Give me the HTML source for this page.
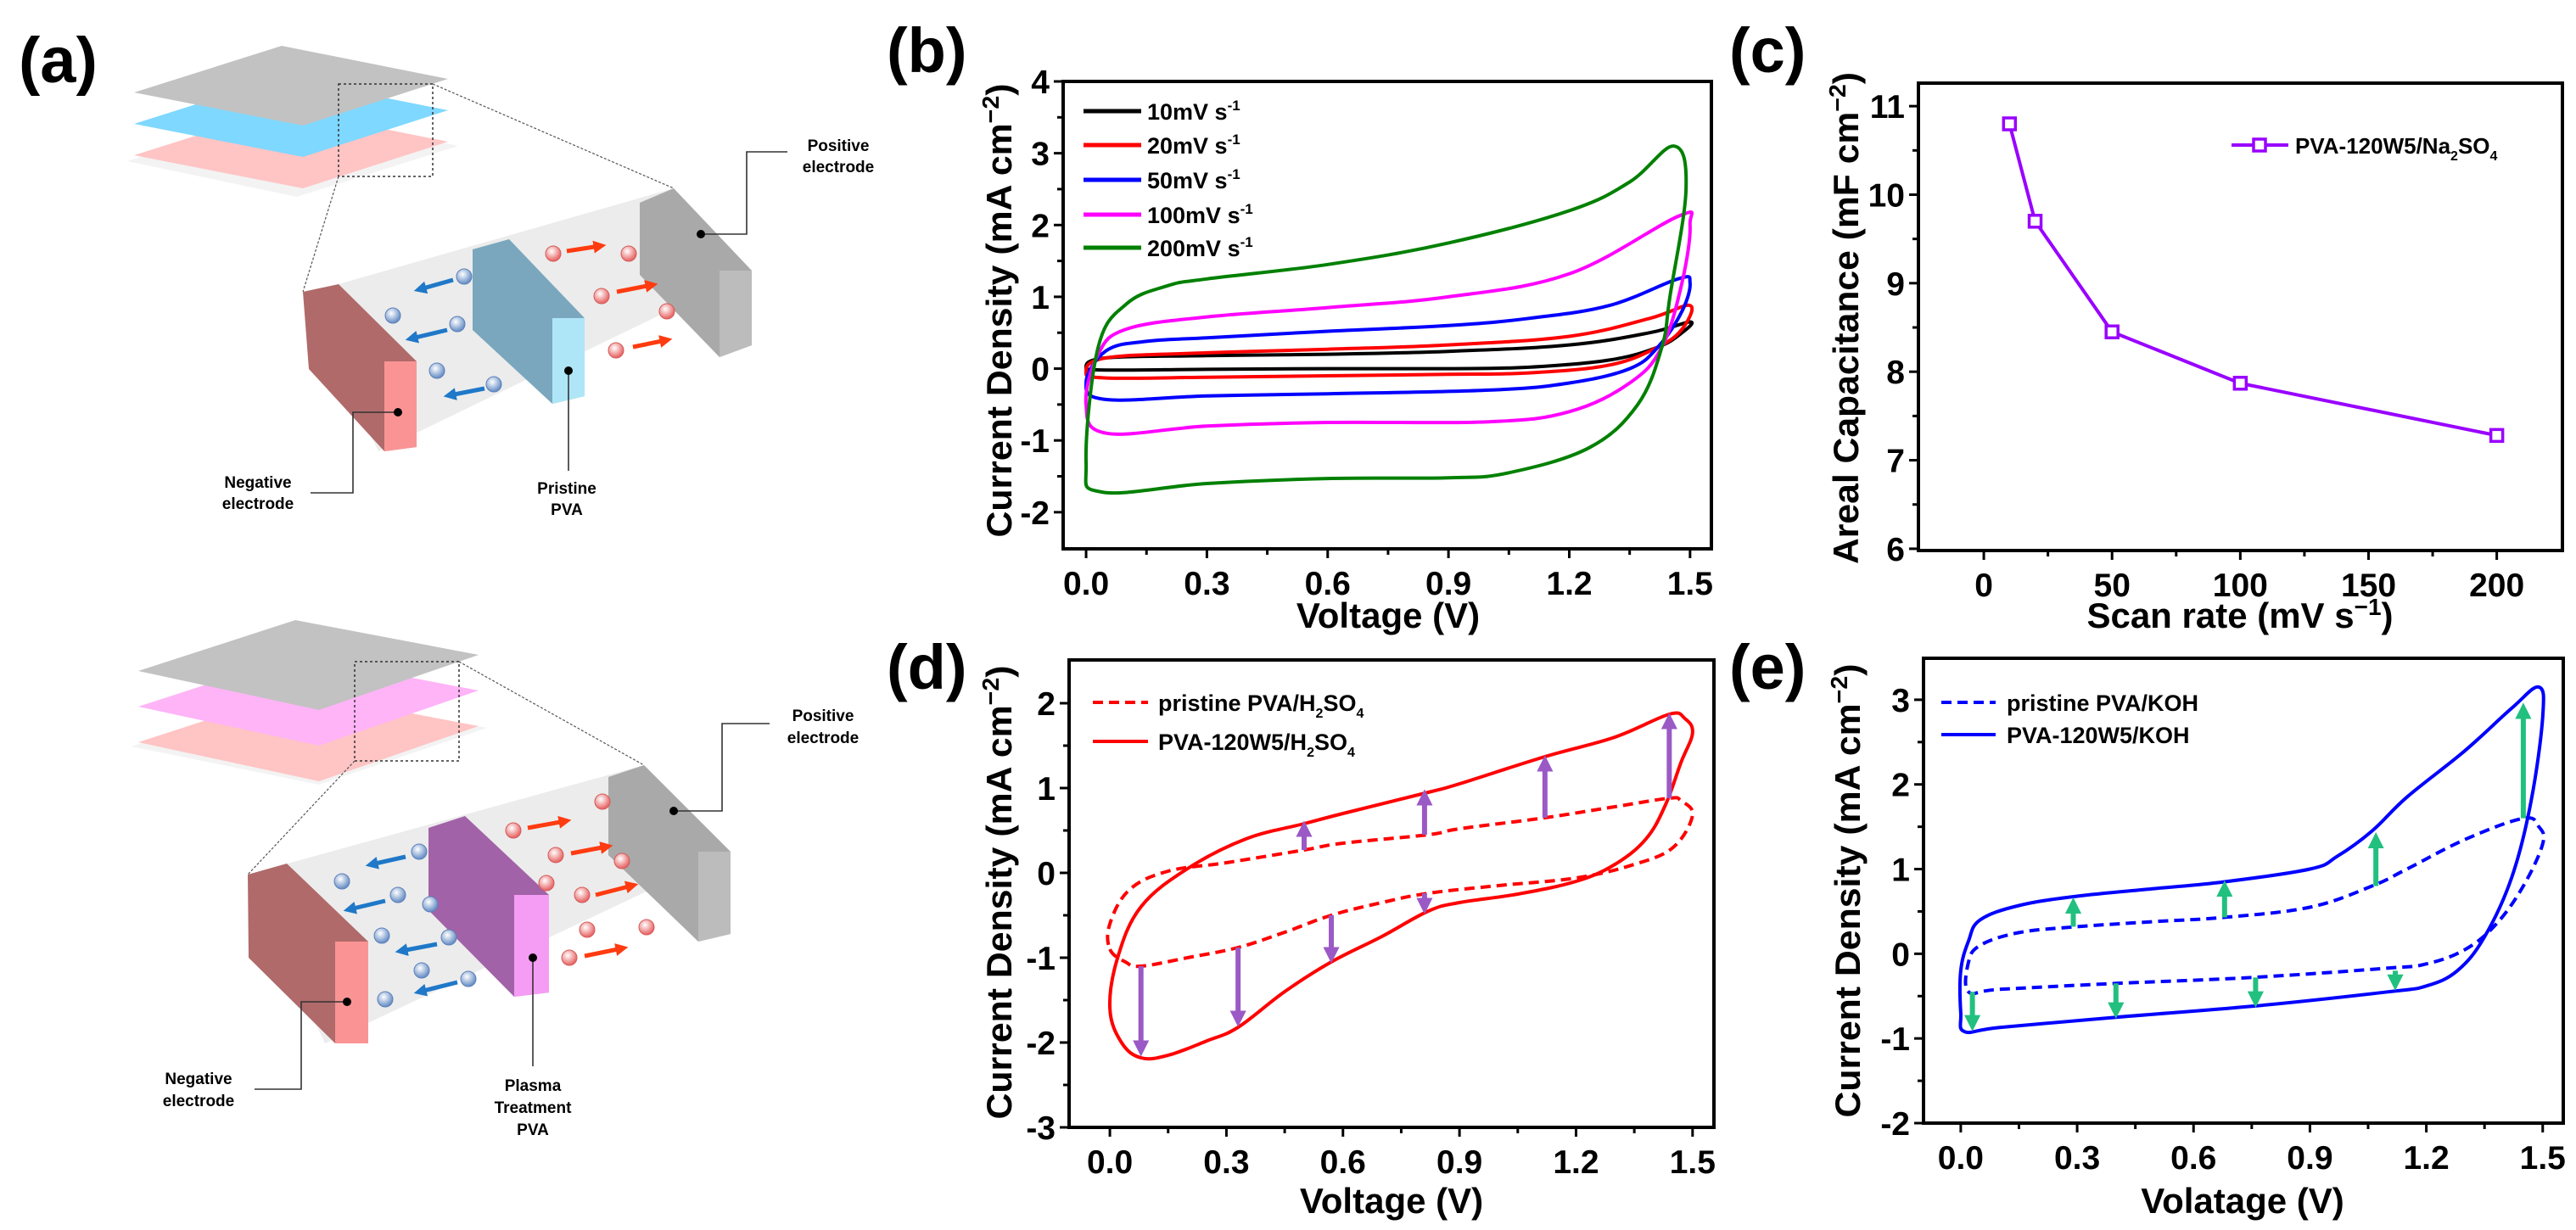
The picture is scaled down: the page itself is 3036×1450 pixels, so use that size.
<!DOCTYPE html>
<html><head><meta charset="utf-8"><style>
html,body{margin:0;padding:0;background:#fff}
svg{display:block}
text{font-family:"Liberation Sans",Arial,sans-serif;font-weight:bold;fill:#000}
</style></head><body>
<svg id="fig" width="3036" height="1450" viewBox="0 0 3036 1450" xmlns="http://www.w3.org/2000/svg">
<defs>
<marker id="ahP" viewBox="0 0 10 10" refX="5" refY="5" markerWidth="3.2" markerHeight="3.2" orient="auto"><path d="M0,0 L10,5 L0,10 z" fill="#9b59c6"/></marker>
<marker id="ahG" viewBox="0 0 10 10" refX="5" refY="5" markerWidth="3.2" markerHeight="3.2" orient="auto"><path d="M0,0 L10,5 L0,10 z" fill="#22c07f"/></marker>
<marker id="ahB" viewBox="0 0 10 10" refX="5" refY="5" markerWidth="3" markerHeight="3" orient="auto"><path d="M0,0 L10,5 L0,10 z" fill="#1f78c8"/></marker>
<marker id="ahR" viewBox="0 0 10 10" refX="5" refY="5" markerWidth="3" markerHeight="3" orient="auto"><path d="M0,0 L10,5 L0,10 z" fill="#ff3b10"/></marker>
<radialGradient id="gB" cx="40%" cy="35%" r="60%"><stop offset="0" stop-color="#fff"/><stop offset="1" stop-color="#6d93c8"/></radialGradient>
<radialGradient id="gR" cx="40%" cy="35%" r="60%"><stop offset="0" stop-color="#fff"/><stop offset="1" stop-color="#e86a6a"/></radialGradient>
</defs>

<!-- Panel (a) -->
<g>
<text x="22" y="97" font-size="76">(a)</text>
<g>
<polygon points="150,190 340,130 540,172 350,232" fill="#eee" opacity="0.7"/>
<polygon points="158,183 332,128 528,167 357,222" fill="#ffc4c4"/>
<polygon points="158,146 332,91 528,130 357,185" fill="#7fd8ff"/>
<polygon points="158,109 332,54 528,93 357,148" fill="#c2c2c2"/>
<rect x="399" y="99" width="111" height="109" fill="none" stroke="#333" stroke-width="1.5" stroke-dasharray="3 3"/>
<line x1="399" y1="208" x2="357" y2="344" stroke="#555" stroke-width="1.2" stroke-dasharray="3 2"/>
<line x1="510" y1="99" x2="794" y2="222" stroke="#555" stroke-width="1.2" stroke-dasharray="3 2"/>
<polygon points="357,347 794,222 886,319 446,532" fill="#ececec"/>
<polygon points="357,344 399,335 491,426 491,527 453,532 364,435" fill="#b06a6a"/>
<polygon points="453,426 491,426 491,527 453,532" fill="#fa9494"/>
<polygon points="557,294 600,282 689,375 689,467 651,476 557,389" fill="#7aa7bd"/>
<polygon points="651,375 689,375 689,467 651,476" fill="#aee6f7"/>
<polygon points="754,239 794,222 886,319 886,407 848,421 754,324" fill="#a9a9a9"/>
<polygon points="848,319 886,319 886,407 848,421" fill="#bcbcbc"/>
<g fill="url(#gB)" stroke="#5c7fb8" stroke-width="1"><circle cx="547" cy="326" r="9"/><circle cx="463" cy="372" r="9"/><circle cx="539" cy="382" r="9"/><circle cx="515" cy="437" r="9"/><circle cx="582" cy="453" r="9"/></g>
<g stroke="#1f78c8" stroke-width="5" marker-end="url(#ahB)"><line x1="534" y1="330" x2="495" y2="341"/><line x1="527" y1="389" x2="485" y2="399"/><line x1="571" y1="458" x2="530" y2="466"/></g>
<g fill="url(#gR)" stroke="#d45a5a" stroke-width="1"><circle cx="652" cy="299" r="9"/><circle cx="741" cy="299" r="9"/><circle cx="709" cy="349" r="9"/><circle cx="786" cy="367" r="9"/><circle cx="726" cy="413" r="9"/></g>
<g stroke="#ff3b10" stroke-width="5" marker-end="url(#ahR)"><line x1="668" y1="296" x2="707" y2="290"/><line x1="727" y1="344" x2="768" y2="336"/><line x1="746" y1="409" x2="785" y2="401"/></g>
<g fill="none" stroke="#333" stroke-width="1.6">
<polyline points="469,486 416,486 416,581 366,581"/><polyline points="670,437 670,555"/><polyline points="826,276 880,276 880,179 928,179"/></g>
<g fill="#000"><circle cx="469" cy="486" r="5"/><circle cx="670" cy="437" r="5"/><circle cx="826" cy="276" r="5"/></g>
<text x="304" y="575" font-size="19" text-anchor="middle">Negative</text>
<text x="304" y="600" font-size="19" text-anchor="middle">electrode</text>
<text x="668" y="582" font-size="19" text-anchor="middle">Pristine</text>
<text x="668" y="607" font-size="19" text-anchor="middle">PVA</text>
<text x="988" y="178" font-size="19" text-anchor="middle">Positive</text>
<text x="988" y="203" font-size="19" text-anchor="middle">electrode</text>
</g>
<g>
<polygon points="155,880 348,815 574,858 376,925" fill="#eee" opacity="0.7"/>
<polygon points="163,875 348,815 564,856 376,921" fill="#ffc4c4"/>
<polygon points="163,833 348,773 564,814 376,879" fill="#ffb4f7"/>
<polygon points="163,791 348,731 564,772 376,837" fill="#c2c2c2"/>
<rect x="418" y="780" width="123" height="117" fill="none" stroke="#333" stroke-width="1.5" stroke-dasharray="3 3"/>
<line x1="418" y1="897" x2="292" y2="1031" stroke="#555" stroke-width="1.2" stroke-dasharray="3 2"/>
<line x1="541" y1="780" x2="759" y2="902" stroke="#555" stroke-width="1.2" stroke-dasharray="3 2"/>
<polygon points="292,1031 759,902 861,1004 383,1230" fill="#ececec"/>
<polygon points="292,1031 338,1018 434,1110 434,1230 395,1230 293,1129" fill="#b06a6a"/>
<polygon points="395,1110 434,1110 434,1230 395,1230" fill="#fa9494"/>
<polygon points="505,976 548,962 647,1055 647,1170 606,1175 505,1073" fill="#a262a8"/>
<polygon points="606,1055 647,1055 647,1170 606,1175" fill="#f59cf5"/>
<polygon points="717,916 759,902 861,1004 861,1101 823,1110 717,1008" fill="#a9a9a9"/>
<polygon points="823,1004 861,1004 861,1101 823,1110" fill="#bcbcbc"/>
<g fill="url(#gB)" stroke="#5c7fb8" stroke-width="1"><circle cx="494" cy="1004" r="9"/><circle cx="403" cy="1039" r="9"/><circle cx="469" cy="1055" r="9"/><circle cx="507" cy="1066" r="9"/><circle cx="450" cy="1103" r="9"/><circle cx="529" cy="1105" r="9"/><circle cx="497" cy="1144" r="9"/><circle cx="552" cy="1154" r="9"/><circle cx="454" cy="1178" r="9"/></g>
<g stroke="#1f78c8" stroke-width="5" marker-end="url(#ahB)"><line x1="478" y1="1010" x2="438" y2="1019"/><line x1="454" y1="1062" x2="412" y2="1072"/><line x1="515" y1="1113" x2="473" y2="1121"/><line x1="539" y1="1158" x2="495" y2="1169"/></g>
<g fill="url(#gR)" stroke="#d45a5a" stroke-width="1"><circle cx="605" cy="979" r="9"/><circle cx="710" cy="945" r="9"/><circle cx="655" cy="1008" r="9"/><circle cx="733" cy="1015" r="9"/><circle cx="644" cy="1041" r="9"/><circle cx="686" cy="1055" r="9"/><circle cx="692" cy="1096" r="9"/><circle cx="762" cy="1093" r="9"/><circle cx="671" cy="1129" r="9"/></g>
<g stroke="#ff3b10" stroke-width="5" marker-end="url(#ahR)"><line x1="622" y1="976" x2="666" y2="968"/><line x1="673" y1="1006" x2="715" y2="998"/><line x1="702" y1="1055" x2="745" y2="1044"/><line x1="689" y1="1127" x2="733" y2="1118"/></g>
<g fill="none" stroke="#333" stroke-width="1.6">
<polyline points="409,1181 355,1181 355,1284 300,1284"/><polyline points="628,1129 628,1257"/><polyline points="794,956 851,956 851,853 907,853"/></g>
<g fill="#000"><circle cx="409" cy="1181" r="5"/><circle cx="628" cy="1129" r="5"/><circle cx="794" cy="956" r="5"/></g>
<text x="234" y="1278" font-size="19" text-anchor="middle">Negative</text>
<text x="234" y="1304" font-size="19" text-anchor="middle">electrode</text>
<text x="628" y="1286" font-size="19" text-anchor="middle">Plasma</text>
<text x="628" y="1312" font-size="19" text-anchor="middle">Treatment</text>
<text x="628" y="1338" font-size="19" text-anchor="middle">PVA</text>
<text x="970" y="850" font-size="19" text-anchor="middle">Positive</text>
<text x="970" y="876" font-size="19" text-anchor="middle">electrode</text>
</g>
</g>

<g id="pb"></g>
<g id="pc"></g>
<g id="pd"></g>
<g id="pe"></g>
</svg>
<script>
// ---------- Panel b data ----------
var bSeriesNames = ["10mV s", "20mV s", "50mV s", "100mV s", "200mV s"];
var bColors = ["#000000", "#ff0000", "#0000ff", "#ff00ff", "#008000"];
var b10V = [0,0.05,0.3,0.6,0.9,1.2,1.4,1.5,1.48,1.42,1.3,1.1,0.9,0.6,0.3,0.05];
var b10I = [0.02,0.15,0.18,0.2,0.24,0.33,0.5,0.65,0.5,0.3,0.12,0.02,0.0,0.0,-0.01,-0.02];
var b20V = [0,0.05,0.3,0.6,0.9,1.2,1.4,1.5,1.48,1.42,1.3,1.1,0.9,0.6,0.3,0.05];
var b20I = [-0.05,0.15,0.22,0.27,0.33,0.45,0.7,0.88,0.55,0.3,0.05,-0.06,-0.08,-0.1,-0.12,-0.13];
var b50V = [0,0.05,0.15,0.3,0.6,0.9,1.1,1.3,1.47,1.5,1.48,1.42,1.35,1.2,1.0,0.6,0.3,0.05];
var b50I = [-0.2,0.25,0.38,0.43,0.52,0.6,0.7,0.88,1.25,1.2,0.8,0.3,0.0,-0.2,-0.3,-0.35,-0.38,-0.43];
var b100V = [0,0.03,0.1,0.3,0.6,0.9,1.2,1.47,1.5,1.48,1.43,1.35,1.2,1.0,0.6,0.3,0.05];
var b100I = [-0.5,0.2,0.55,0.72,0.85,1.0,1.32,2.12,2.0,1.2,0.3,-0.2,-0.6,-0.74,-0.75,-0.8,-0.9];
var b200V = [0,0.03,0.1,0.2,0.3,0.6,0.9,1.2,1.35,1.46,1.49,1.45,1.43,1.37,1.25,1.05,0.9,0.6,0.3,0.04];
var b200I = [-1.3,0.3,0.9,1.15,1.25,1.45,1.75,2.2,2.6,3.1,2.5,1.0,0.3,-0.5,-1.1,-1.45,-1.52,-1.53,-1.6,-1.72];
var bXTicks = [0,0.3,0.6,0.9,1.2,1.5];
var bYTicks = [-2,-1,0,1,2,3,4];
// ---------- Panel c data ----------
var cScanRates = [10,20,50,100,200];
var cCapacitance = [10.8,9.7,8.45,7.87,7.28];
var cXTicks = [0,50,100,150,200];
var cYTicks = [6,7,8,9,10,11];
// ---------- Panel d data ----------
var dSolidV = [0,0.03,0.08,0.15,0.25,0.33,0.45,0.57,0.7,0.82,0.9,1.05,1.2,1.3,1.38,1.43,1.47,1.5,1.48,1.44,1.3,1.12,0.9,0.82,0.6,0.5,0.35,0.2,0.08,0.02];
var dSolidI = [-1.6,-2.0,-2.18,-2.15,-1.98,-1.82,-1.4,-1.05,-0.75,-0.45,-0.35,-0.25,-0.1,0.1,0.4,0.8,1.3,1.65,1.82,1.87,1.6,1.37,1.05,0.95,0.7,0.58,0.4,0.05,-0.4,-1.0];
var dDashV = [0,0.04,0.08,0.2,0.33,0.45,0.57,0.7,0.82,1.0,1.2,1.35,1.45,1.5,1.47,1.44,1.3,1.12,0.9,0.82,0.6,0.5,0.3,0.15,0.05,0.0];
var dDashI = [-0.9,-1.05,-1.1,-1.0,-0.88,-0.7,-0.5,-0.35,-0.24,-0.15,-0.06,0.1,0.3,0.68,0.85,0.88,0.78,0.65,0.52,0.45,0.35,0.27,0.12,0.02,-0.2,-0.6];
var dArrowV = [0.08,0.33,0.57,0.81,0.5,0.81,1.12,1.44];
var dArrowFrom = [-1.1,-0.88,-0.5,-0.24,0.27,0.45,0.65,0.88];
var dArrowTo = [-2.15,-1.8,-1.05,-0.47,0.6,0.97,1.37,1.87];
var dXTicks = [0,0.3,0.6,0.9,1.2,1.5];
var dYTicks = [-3,-2,-1,0,1,2];
// ---------- Panel e data ----------
var eSolidV = [0.01,0.1,0.4,0.75,1.1,1.2,1.28,1.35,1.42,1.47,1.5,1.49,1.42,1.3,1.15,1.06,0.97,0.9,0.68,0.5,0.3,0.15,0.05,0.02,0.0,0.0];
var eSolidI = [-0.92,-0.87,-0.75,-0.62,-0.45,-0.38,-0.2,0.2,0.9,1.8,2.8,3.15,2.9,2.4,1.85,1.45,1.15,1.0,0.85,0.77,0.68,0.57,0.4,0.15,-0.2,-0.7];
var eDashV = [0.02,0.1,0.4,0.75,1.1,1.2,1.3,1.38,1.45,1.5,1.49,1.45,1.3,1.15,1.06,0.9,0.68,0.5,0.3,0.15,0.05,0.02];
var eDashI = [-0.45,-0.42,-0.35,-0.28,-0.17,-0.12,0.05,0.35,0.8,1.3,1.5,1.6,1.35,1.0,0.8,0.55,0.43,0.38,0.32,0.25,0.1,-0.1];
var eArrowV = [0.03,0.4,0.76,1.12,0.29,0.68,1.07,1.45];
var eArrowFrom = [-0.45,-0.35,-0.28,-0.2,0.32,0.43,0.8,1.6];
var eArrowTo = [-0.9,-0.75,-0.62,-0.42,0.65,0.85,1.42,2.95];
var eXTicks = [0,0.3,0.6,0.9,1.2,1.5];
var eYTicks = [-2,-1,0,1,2,3];

var NS = "http://www.w3.org/2000/svg";
function mk(parent, tag, attrs) {
  var el = document.createElementNS(NS, tag);
  for (var k in attrs) el.setAttribute(k, attrs[k]);
  parent.appendChild(el);
  return el;
}
function fmt(v, dec) { return v.toFixed(dec); }

function axes(g, o) {
  var sx = function (v) { return o.L + (v - o.xmin) / (o.xmax - o.xmin) * (o.R - o.L); };
  var sy = function (v) { return o.B - (v - o.ymin) / (o.ymax - o.ymin) * (o.B - o.T); };
  var frame = mk(g, "rect", {x: o.L, y: o.T, width: o.R - o.L, height: o.B - o.T, fill: "none", stroke: "#000", "stroke-width": 4});
  
  
  for (var i = 0; i < o.xt.length; i++) {
    var x = sx(o.xt[i]);
    mk(g, "line", {x1: x, y1: o.B, x2: x, y2: o.B + 11, stroke: "#000", "stroke-width": 3});
    var t = mk(g, "text", {x: x, y: o.B + 54, "font-size": 39, "text-anchor": "middle"});
    t.textContent = fmt(o.xt[i], o.xdec);
    
    
    if (i < o.xt.length - 1) {
      var xm = sx((o.xt[i] + o.xt[i + 1]) / 2);
      mk(g, "line", {x1: xm, y1: o.B, x2: xm, y2: o.B + 7, stroke: "#000", "stroke-width": 3});
    }
  }
  for (var j = 0; j < o.yt.length; j++) {
    var y = sy(o.yt[j]);
    mk(g, "line", {x1: o.L, y1: y, x2: o.L - 11, y2: y, stroke: "#000", "stroke-width": 3});
    var ty = mk(g, "text", {x: o.L - 16, y: y + 14, "font-size": 39, "text-anchor": "end"});
    ty.textContent = String(o.yt[j]);
    
    
    if (j < o.yt.length - 1) {
      var ym = sy((o.yt[j] + o.yt[j + 1]) / 2);
      mk(g, "line", {x1: o.L, y1: ym, x2: o.L - 7, y2: ym, stroke: "#000", "stroke-width": 3});
    }
  }
  return {sx: sx, sy: sy};
}

function smoothPath(V, I, s, closed) {
  var p = V.map(function (v, i) { return [s.sx(v), s.sy(I[i])]; });
  var n = p.length, d = "M" + p[0][0].toFixed(1) + "," + p[0][1].toFixed(1);
  var last = closed ? n : n - 1;
  for (var i = 0; i < last; i++) {
    var p0 = p[(i - 1 + n) % n], p1 = p[i], p2 = p[(i + 1) % n], p3 = p[(i + 2) % n];
    if (!closed) { if (i === 0) p0 = p1; if (i + 2 >= n) p3 = p2; }
    var k = 0.18;
    var c1 = [p1[0] + (p2[0] - p0[0]) * k, p1[1] + (p2[1] - p0[1]) * k];
    var c2 = [p2[0] - (p3[0] - p1[0]) * k, p2[1] - (p3[1] - p1[1]) * k];
    d += " C" + c1[0].toFixed(1) + "," + c1[1].toFixed(1) + " " + c2[0].toFixed(1) + "," + c2[1].toFixed(1) + " " + p2[0].toFixed(1) + "," + p2[1].toFixed(1);
  }
  return d + (closed ? " Z" : "");
}

function ytitle(g, x, cy, len) {
  var t = mk(g, "text", {x: 0, y: 0, "font-size": 42, "text-anchor": "middle", transform: "translate(" + x + "," + cy + ") rotate(-90)", textLength: len, lengthAdjust: "spacingAndGlyphs"});
  t.innerHTML = 'Current Density (mA cm<tspan dy="-15" font-size="28">−2</tspan><tspan dy="15">)</tspan>';
  
  
}
function label(g, x, y, s) {
  var t = mk(g, "text", {x: x, y: y, "font-size": 74});
  t.textContent = s;
  
  
}

// ---------- Panel b ----------
(function () {
  var g = document.getElementById("pb");
  label(g, 1045, 85, "(b)");
  var s = axes(g, {L: 1253, R: 2017, T: 96, B: 647, xmin: -0.057, xmax: 1.553, ymin: -2.51, ymax: 4, xt: bXTicks, yt: bYTicks, xdec: 1});
  var Vs = [b10V, b20V, b50V, b100V, b200V], Is = [b10I, b20I, b50I, b100I, b200I];
  var legY = [131, 171, 212, 253, 292];
  for (var i = 0; i < Vs.length; i++) {
    var p = mk(g, "path", {d: smoothPath(Vs[i], Is[i], s, true), fill: "none", stroke: bColors[i], "stroke-width": 4});
    
    
    var ll = mk(g, "line", {x1: 1277, y1: legY[i], x2: 1345, y2: legY[i], stroke: bColors[i], "stroke-width": 5});
    
    
    var lt = mk(g, "text", {x: 1352, y: legY[i] + 10, "font-size": 27});
    lt.innerHTML = bSeriesNames[i] + '<tspan dy="-11" font-size="17">-1</tspan>';
    
    
  }
  ytitle(g, 1192, 366, 535);
  var xt = mk(g, "text", {x: 1636, y: 740, "font-size": 42, "text-anchor": "middle"});
  xt.textContent = "Voltage (V)";
  
  
})();

// ---------- Panel c ----------
(function () {
  var g = document.getElementById("pc");
  label(g, 2038, 85, "(c)");
  var s = axes(g, {L: 2261, R: 3020, T: 98, B: 649, xmin: -25.5, xmax: 225.6, ymin: 5.98, ymax: 11.26, xt: cXTicks, yt: cYTicks, xdec: 0});
  var pts = cScanRates.map(function (x, i) { return s.sx(x).toFixed(1) + "," + s.sy(cCapacitance[i]).toFixed(1); }).join(" ");
  var pl = mk(g, "polyline", {points: pts, fill: "none", stroke: "#9900ff", "stroke-width": 4});
  
  
  for (var i = 0; i < cScanRates.length; i++) {
    var m = mk(g, "rect", {x: s.sx(cScanRates[i]) - 7, y: s.sy(cCapacitance[i]) - 7, width: 14, height: 14, fill: "#fff", stroke: "#9900ff", "stroke-width": 3.5});
    
    
  }
  mk(g, "line", {x1: 2630, y1: 171, x2: 2697, y2: 171, stroke: "#9900ff", "stroke-width": 4});
  var lm = mk(g, "rect", {x: 2656, y: 164, width: 14, height: 14, fill: "#fff", stroke: "#9900ff", "stroke-width": 3.5});
  
  
  var lt = mk(g, "text", {x: 2705, y: 181, "font-size": 26});
  lt.innerHTML = 'PVA-120W5/Na<tspan dy="8" font-size="16">2</tspan><tspan dy="-8">SO</tspan><tspan dy="8" font-size="16">4</tspan>';
  
  
  var yt = mk(g, "text", {x: 0, y: 0, "font-size": 42, "text-anchor": "middle", transform: "translate(2190,375) rotate(-90)", textLength: 580, lengthAdjust: "spacingAndGlyphs"});
  yt.innerHTML = 'Areal Capacitance (mF cm<tspan dy="-15" font-size="28">−2</tspan><tspan dy="15">)</tspan>';
  
  
  var xt = mk(g, "text", {x: 2640, y: 740, "font-size": 42, "text-anchor": "middle"});
  xt.innerHTML = 'Scan rate (mV s<tspan dy="-15" font-size="28">−1</tspan><tspan dy="15">)</tspan>';
  
  
})();

function arrows(g, s, V, F, T, color, marker) {
  for (var i = 0; i < V.length; i++) {
    var x = s.sx(V[i]), y1 = s.sy(F[i]), y2 = s.sy(T[i]);
    var dir = y2 < y1 ? 1 : -1;
    var a = mk(g, "line", {x1: x, y1: y1, x2: x, y2: y2 + dir * 8, stroke: color, "stroke-width": 6, "marker-end": "url(#" + marker + ")"});
    
    
  }
}

// ---------- Panel d ----------
(function () {
  var g = document.getElementById("pd");
  label(g, 1045, 812, "(d)");
  var s = axes(g, {L: 1260, R: 2020, T: 778, B: 1329, xmin: -0.105, xmax: 1.555, ymin: -3, ymax: 2.51, xt: dXTicks, yt: dYTicks, xdec: 1});
  var p1 = mk(g, "path", {d: smoothPath(dDashV, dDashI, s, true), fill: "none", stroke: "#ff0000", "stroke-width": 4, "stroke-dasharray": "12 7"});
  
  
  var p2 = mk(g, "path", {d: smoothPath(dSolidV, dSolidI, s, true), fill: "none", stroke: "#ff0000", "stroke-width": 4});
  
  
  arrows(g, s, dArrowV, dArrowFrom, dArrowTo, "#9b59c6", "ahP");
  mk(g, "line", {x1: 1288, y1: 828, x2: 1353, y2: 828, stroke: "#ff0000", "stroke-width": 4, "stroke-dasharray": "12 7"});
  mk(g, "line", {x1: 1288, y1: 874, x2: 1353, y2: 874, stroke: "#ff0000", "stroke-width": 4});
  var l1 = mk(g, "text", {x: 1365, y: 838, "font-size": 27});
  l1.innerHTML = 'pristine PVA/H<tspan dy="8" font-size="16">2</tspan><tspan dy="-8">SO</tspan><tspan dy="8" font-size="16">4</tspan>';
  
  
  var l2 = mk(g, "text", {x: 1365, y: 884, "font-size": 27});
  l2.innerHTML = 'PVA-120W5/H<tspan dy="8" font-size="16">2</tspan><tspan dy="-8">SO</tspan><tspan dy="8" font-size="16">4</tspan>';
  
  
  ytitle(g, 1192, 1052, 535);
  var xt = mk(g, "text", {x: 1640, y: 1430, "font-size": 42, "text-anchor": "middle"});
  xt.textContent = "Voltage (V)";
  
  
})();

// ---------- Panel e ----------
(function () {
  var g = document.getElementById("pe");
  label(g, 2038, 812, "(e)");
  var s = axes(g, {L: 2267, R: 3021, T: 776, B: 1324, xmin: -0.096, xmax: 1.553, ymin: -2, ymax: 3.49, xt: eXTicks, yt: eYTicks, xdec: 1});
  var p1 = mk(g, "path", {d: smoothPath(eDashV, eDashI, s, true), fill: "none", stroke: "#0000ff", "stroke-width": 4, "stroke-dasharray": "12 7"});
  
  
  var p2 = mk(g, "path", {d: smoothPath(eSolidV, eSolidI, s, true), fill: "none", stroke: "#0000ff", "stroke-width": 4});
  
  
  arrows(g, s, eArrowV, eArrowFrom, eArrowTo, "#22c07f", "ahG");
  mk(g, "line", {x1: 2288, y1: 828, x2: 2352, y2: 828, stroke: "#0000ff", "stroke-width": 4, "stroke-dasharray": "12 7"});
  mk(g, "line", {x1: 2288, y1: 866, x2: 2352, y2: 866, stroke: "#0000ff", "stroke-width": 4});
  var l1 = mk(g, "text", {x: 2365, y: 838, "font-size": 27});
  l1.textContent = 'pristine PVA/KOH';
  
  
  var l2 = mk(g, "text", {x: 2365, y: 876, "font-size": 27});
  l2.textContent = 'PVA-120W5/KOH';
  
  
  ytitle(g, 2192, 1050, 535);
  var xt = mk(g, "text", {x: 2643, y: 1430, "font-size": 42, "text-anchor": "middle"});
  xt.textContent = "Volatage (V)";
  
  
})();
</script>
</body></html>
